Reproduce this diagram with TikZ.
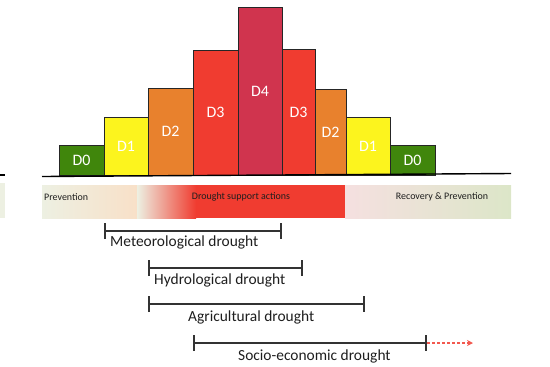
\documentclass[tikz,border=0pt]{standalone}
\usepackage{fontspec}
\setmainfont{Carlito}
\usepackage{tikz}
\usetikzlibrary{positioning,arrows.meta}
\usepackage{xcolor}

\definecolor{dzero}{RGB}{64,134,12}
\definecolor{done}{RGB}{252,244,30}
\definecolor{dtwo}{RGB}{232,129,45}
\definecolor{dthree}{RGB}{240,60,48}
\definecolor{dfour}{RGB}{208,52,78}
\definecolor{paleg}{RGB}{237,240,226}
\definecolor{peach}{RGB}{248,224,200}
\definecolor{palep}{RGB}{245,224,224}
\definecolor{sage}{RGB}{220,230,200}
\definecolor{ink}{RGB}{30,30,30}

\begin{document}
\begin{tikzpicture}[x=1bp,y=-1bp,
  bar/.style={draw=black!85,line width=0.8bp,inner sep=0pt,outer sep=0pt,
    text=white,font=\fontsize{16}{16}\selectfont},
  band/.style={font=\fontsize{10}{10}\selectfont,text=ink,inner sep=0pt},
  span/.style={draw=black!80,line width=1.3bp,
    {Bar[width=16bp,line width=1.8bp]}-{Bar[width=16bp,line width=1.8bp]}},
  lbl/.style={font=\fontsize{15.5}{15.5}\selectfont,text=ink,inner sep=0pt,anchor=west}]
\useasboundingbox (0,0) rectangle (550,366);

% phase band
\fill[paleg] (0,183) rectangle (5,218);
\shade[left color=paleg,right color=peach] (42,185) rectangle (137,218);
\shade[left color=paleg,right color=dthree] (137,185) rectangle (196,218);
\fill[dthree] (196,185) rectangle (345,218);
\shade[left color=palep,right color=sage] (345,185) rectangle (511,218);
\node[band,anchor=west] (prev) at (44,197) {Prevention};
\node[band] (supp) at (241,197) {Drought support actions};
\node[band] (reco) at (442,197) {Recovery \& Prevention};

% drought levels
\foreach \i/\xa/\xb/\yt/\c/\t in {1/59/104/145/dzero/D0, 2/104/148/117/done/D1,
    3/148/193/88/dtwo/D2, 4/193/238/50/dthree/D3, 5/238/282/7/dfour/D4,
    6/282/315/49/dthree/D3, 7/315/346/89/dtwo/D2, 8/346/390/117/done/D1,
    9/390/435/145/dzero/D0}
  \node[bar,fill=\c,anchor=north west,minimum width={(\xb-\xa)*1bp},
    minimum height={(175-\yt)*1bp}] (b\i) at (\xa,\yt) {\t};

\coordinate (g0) at (0,175);
\coordinate (g1) at (5,175);
\coordinate (g2) at (42,176.5);
\coordinate (g3) at (511,173.5);
\draw[line width=1.4bp] (g0) -- (g1);
\draw[line width=1.4bp] (g2) -- (g3);

% drought types
\coordinate (met-s) at (104,231);
\coordinate (met-e) at (282,231);
\coordinate (hyd-s) at (148,268);
\coordinate (hyd-e) at (303,268);
\coordinate (agr-s) at (148,304);
\coordinate (agr-e) at (365,304);
\coordinate (soc-s) at (193,343);
\coordinate (soc-e) at (427,343);
\coordinate (soc-x) at (473,343);
\draw[span] (met-s) -- (met-e);
\draw[span] (hyd-s) -- (hyd-e);
\draw[span] (agr-s) -- (agr-e);
\draw[span] (soc-s) -- (soc-e);
\draw[dthree!85,line width=1.3bp,dash pattern=on 3bp off 2bp,
  -{Stealth[length=6bp,width=6bp]}] (soc-e) -- (soc-x);
\node[lbl] (met) at (110,242) {Meteorological drought};
\node[lbl] (hyd) at (154,280) {Hydrological drought};
\node[lbl] (agr) at (188,317) {Agricultural drought};
\node[lbl] (soc) at (238,356) {Socio-economic drought};
\end{tikzpicture}
\end{document}
